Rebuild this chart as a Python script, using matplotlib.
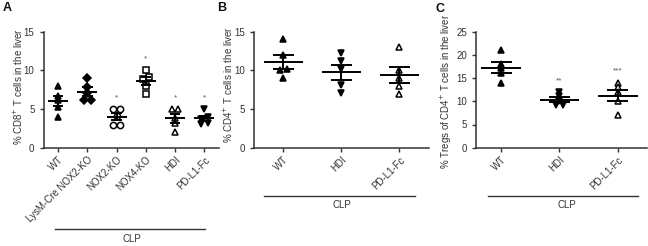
import numpy as np
import matplotlib
matplotlib.use("Agg")
import matplotlib.pyplot as plt
from matplotlib.lines import Line2D

plt.rcParams['font.family'] = ['Liberation Sans', 'DejaVu Sans']

GREY = '#333333'

# panel A - CD8
a_groups = ["WT", "LysM-Cre NOX2-KO", "NOX2-KO", "NOX4-KO", "HDI", "PD-L1-Fc"]
a_wt = [8.0, 6.7, 6.2, 5.2, 4.0]
a_lysm = [9.0, 7.8, 7.1, 6.2, 6.2]
a_nox2 = [5.0, 5.0, 4.1, 3.0, 3.0]
a_nox4 = [10.0, 9.1, 8.9, 8.0, 7.0]
a_hdi = [5.0, 5.0, 3.8, 3.2, 2.0]
a_pdl1 = [5.0, 4.0, 3.7, 3.2, 3.1]
a_stars = ["", "", "*", "*", "*", "*"]

# panel B - CD4
b_groups = ["WT", "HDI", "PD-L1-Fc"]
b_wt = [14.0, 12.0, 10.2, 10.0, 9.0]
b_hdi = [12.2, 11.2, 10.2, 8.1, 7.1]
b_pdl1 = [13.0, 10.0, 9.0, 8.0, 7.0]

# panel C - Tregs
c_groups = ["WT", "HDI", "PD-L1-Fc"]
c_wt = [21.0, 18.0, 17.2, 16.0, 14.0]
c_hdi = [12.0, 11.2, 10.0, 9.2, 9.2]
c_pdl1 = [14.0, 13.1, 12.0, 10.0, 7.0]
c_stars = ["", "**", "***"]

# marker: (symbol, filled)
a_marks = [("^", True), ("D", True), ("o", False), ("s", False), ("^", False), ("v", True)]
b_marks = [("^", True), ("v", True), ("^", False)]
c_marks = [("^", True), ("v", True), ("^", False)]


def spread(vals, tol, step):
    # small side-by-side offsets for points with near equal values
    vals = np.asarray(vals)
    order = np.argsort(vals)
    offs = np.zeros(len(vals))
    clusters = [[order[0]]]
    for i in order[1:]:
        if vals[i] - vals[clusters[-1][-1]] < tol:
            clusters[-1].append(i)
        else:
            clusters.append([i])
    for c in clusters:
        n = len(c)
        for k, idx in enumerate(c):
            offs[idx] = (k - (n - 1) / 2) * step
    return offs


def scatter_panel(ax, groups, data, marks, ymax, yticks, ylabel, step, stars=None):
    for i, (vals, (m, filled)) in enumerate(zip(data, marks)):
        vals = np.asarray(vals)
        offs = spread(vals, ymax * 0.03, step)
        ms = 4.5 if m in ("o", "s") else 4.3
        if m == "D":
            ms = 3.6
        ax.plot(i + offs, vals, ls='none', marker=m, ms=ms,
                mfc='black' if filled else 'white', mec='black', mew=1.1, zorder=3)
        mean = vals.mean()
        sem = vals.std(ddof=1) / np.sqrt(len(vals))
        ax.hlines(mean, i - 0.34, i + 0.34, color='black', lw=1.4, zorder=4)
        ax.hlines([mean - sem, mean + sem], i - 0.18, i + 0.18, color='black', lw=1.4, zorder=4)
        ax.vlines(i, mean - sem, mean + sem, color='black', lw=1.4, zorder=4)
        if stars and stars[i]:
            ax.text(i, vals.max() + ymax * 0.07, stars[i], ha='center', va='bottom',
                    fontsize=6, color='#555555')
    ax.set_ylim(0, ymax)
    ax.set_yticks(yticks)
    ax.set_xticks(range(len(groups)))
    ax.set_xticklabels(groups, rotation=45, ha='right', rotation_mode='anchor',
                       fontsize=7, color=GREY)
    ax.tick_params(axis='y', labelsize=7, colors=GREY, length=3, width=1)
    ax.tick_params(axis='x', length=3, width=1, colors=GREY, pad=2)
    for s in ('top', 'right'):
        ax.spines[s].set_visible(False)
    for s in ('left', 'bottom'):
        ax.spines[s].set_color(GREY)
        ax.spines[s].set_linewidth(1.1)
    ax.set_ylabel(ylabel, fontsize=7, color=GREY)


fig = plt.figure(figsize=(6.48, 2.46), dpi=100)
W, H = 648.0, 246.0


def axes_px(x0, x1, ytop, ybot):
    return fig.add_axes([x0 / W, 1 - ybot / H, (x1 - x0) / W, (ybot - ytop) / H])


axA = axes_px(43.5, 219, 31.7, 147.7)
axB = axes_px(254.3, 428.5, 31.7, 147.7)
axC = axes_px(476, 647, 31.7, 147.7)

scatter_panel(axA, a_groups, [a_wt, a_lysm, a_nox2, a_nox4, a_hdi, a_pdl1], a_marks,
              15, [0, 5, 10, 15], r"% CD8$^{+}$ T cells in the liver", 0.22, a_stars)
axA.set_xlim(-0.5, 5.5)
axA.yaxis.set_label_coords(-0.105, 0.526)
scatter_panel(axB, b_groups, [b_wt, b_hdi, b_pdl1], b_marks,
              15, [0, 5, 10, 15], r"% CD4$^{+}$ T cells in the liver", 0.11)
axB.set_xlim(-0.5, 2.5)
axB.yaxis.set_label_coords(-0.111, 0.54)
scatter_panel(axC, c_groups, [c_wt, c_hdi, c_pdl1], c_marks,
              25, [0, 5, 10, 15, 20, 25], r"% Tregs of CD4$^{+}$ T cells in the liver", 0.11, c_stars)
axC.set_xlim(-0.43, 2.5)
axC.yaxis.set_label_coords(-0.129, 0.49)

# CLP brackets
for x0, x1, y, tx, ty in [(55, 205, 229.3, 131.7, 239), (264, 415, 196, 341.7, 204.5),
                          (488, 638, 196, 566.7, 204.5)]:
    fig.add_artist(Line2D([x0 / W, x1 / W], [1 - y / H, 1 - y / H], color=GREY, lw=1.0))
    fig.text(tx / W, 1 - ty / H, "CLP", ha='center', va='center', fontsize=7, color=GREY)

for lab, x, y in [("A", 7, 8), ("B", 222, 8), ("C", 440, 9)]:
    fig.text(x / W, 1 - y / H, lab, ha='center', va='center', fontsize=9,
             fontweight='bold', color='#111111')

fig.savefig("out.png", dpi=100)
